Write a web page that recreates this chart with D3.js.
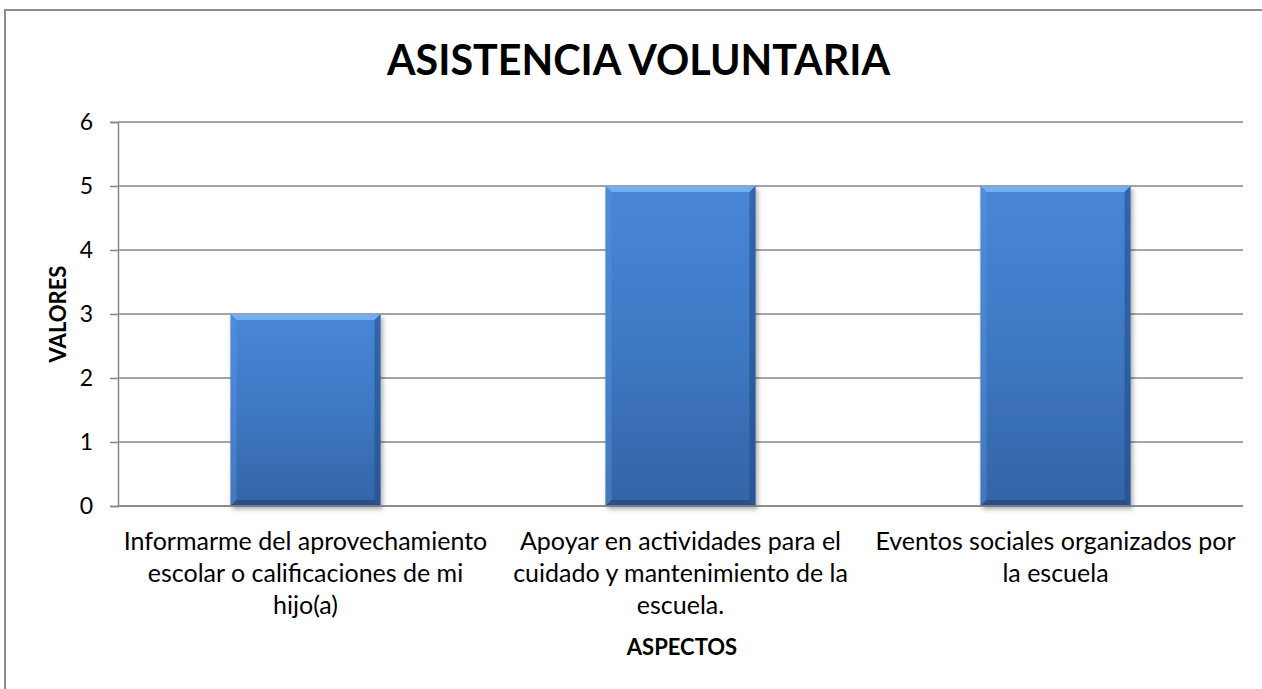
<!DOCTYPE html>
<html>
<head>
<meta charset="utf-8">
<script src="https://cdn.jsdelivr.net/npm/d3@7"></script>
<style>
  body { margin: 0; background: #fff; }
  svg { display: block; font-family: Lato, "Open Sans", sans-serif; }
</style>
</head>
<body>
<div class="container"></div>
<script>
// data
const categories = [
  ["Informarme del aprovechamiento", "escolar o calificaciones de mi", "hijo(a)"],
  ["Apoyar en actividades para el", "cuidado y mantenimiento de la", "escuela."],
  ["Eventos sociales organizados por", "la escuela"]
];
const values = [3, 5, 5];
const yTicks = [0, 1, 2, 3, 4, 5, 6];
const title = "ASISTENCIA VOLUNTARIA";
const xTitle = "ASPECTOS";
const yTitle = "VALORES";

const w = 1262;
const h = 689;
const plotLeft = 118, plotRight = 1243, plotTop = 122, plotBottom = 506;

const svg = d3.select(".container")
  .append("svg")
  .attr("width", w)
  .attr("height", h);

const defs = svg.append("defs");
const grad = defs.append("linearGradient")
  .attr("id", "barFill")
  .attr("x1", 0).attr("y1", 0).attr("x2", 0).attr("y2", 1);
grad.append("stop").attr("offset", "0%").attr("stop-color", "#4887d6");
grad.append("stop").attr("offset", "50%").attr("stop-color", "#3e78c4");
grad.append("stop").attr("offset", "100%").attr("stop-color", "#3464a6");

const shadow = defs.append("filter")
  .attr("id", "shadow")
  .attr("x", "-10%").attr("y", "-10%").attr("width", "130%").attr("height", "130%");
shadow.append("feGaussianBlur").attr("in", "SourceAlpha").attr("stdDeviation", 2.5);
shadow.append("feOffset").attr("dx", 2).attr("dy", 3).attr("result", "off");
shadow.append("feComponentTransfer").append("feFuncA").attr("type", "linear").attr("slope", 0.35);
const merge = shadow.append("feMerge");
merge.append("feMergeNode");
merge.append("feMergeNode").attr("in", "SourceGraphic");

// chart frame
svg.append("rect")
  .attr("x", 5).attr("y", 10)
  .attr("width", 1300).attr("height", 700)
  .attr("fill", "#fff")
  .attr("stroke", "#8c8c8c")
  .attr("stroke-width", 2);

const x = d3.scaleBand()
  .domain(d3.range(categories.length))
  .range([plotLeft, plotRight])
  .paddingInner(0.6)
  .paddingOuter(0.3);

const y = d3.scaleLinear()
  .domain([0, 6])
  .range([plotBottom, plotTop]);

// gridlines
svg.append("g")
  .selectAll("line")
  .data(yTicks)
  .join("line")
  .attr("x1", plotLeft).attr("x2", plotRight)
  .attr("y1", d => y(d)).attr("y2", d => y(d))
  .attr("stroke", "#868686")
  .attr("stroke-width", 1.5);

// y axis
const yAxis = d3.axisLeft(y)
  .tickValues(yTicks)
  .tickFormat(d3.format("d"))
  .tickSize(8)
  .tickPadding(17);
const gy = svg.append("g")
  .attr("transform", "translate(" + plotLeft + ",0)")
  .call(yAxis);
gy.select(".domain").attr("stroke", "#868686").attr("stroke-width", 1.5);
gy.selectAll(".tick line").attr("stroke", "#868686").attr("stroke-width", 1.5);
gy.selectAll(".tick text")
  .attr("font-size", 23)
  .attr("font-family", "Lato, sans-serif")
  .attr("fill", "#000");

// bars
const bev = 6;
const bars = svg.append("g")
  .selectAll("g")
  .data(values)
  .join("g")
  .attr("filter", "url(#shadow)");

bars.append("rect")
  .attr("x", (d, i) => x(i))
  .attr("y", d => y(d))
  .attr("width", x.bandwidth())
  .attr("height", d => y(0) - y(d))
  .attr("fill", "url(#barFill)");

// bevel edges
bars.append("polygon")
  .attr("points", (d, i) => {
    const x0 = x(i), x1 = x(i) + x.bandwidth(), y0 = y(d);
    return [[x0, y0], [x1, y0], [x1 - bev, y0 + bev], [x0 + bev, y0 + bev]].join(" ");
  })
  .attr("fill", "#7ab3f2")
  .attr("opacity", 0.9);
bars.append("polygon")
  .attr("points", (d, i) => {
    const x0 = x(i), y0 = y(d), y1 = y(0);
    return [[x0, y0], [x0 + bev, y0 + bev], [x0 + bev, y1 - bev], [x0, y1]].join(" ");
  })
  .attr("fill", "#5a96e0")
  .attr("opacity", 0.4);
bars.append("polygon")
  .attr("points", (d, i) => {
    const x1 = x(i) + x.bandwidth(), y0 = y(d), y1 = y(0);
    return [[x1, y0], [x1 - bev, y0 + bev], [x1 - bev, y1 - bev], [x1, y1]].join(" ");
  })
  .attr("fill", "#1f4a85")
  .attr("opacity", 0.55);
bars.append("polygon")
  .attr("points", (d, i) => {
    const x0 = x(i), x1 = x(i) + x.bandwidth(), y1 = y(0);
    return [[x0, y1], [x0 + bev, y1 - bev], [x1 - bev, y1 - bev], [x1, y1]].join(" ");
  })
  .attr("fill", "#203f6e")
  .attr("opacity", 0.55);

// x axis line
svg.append("line")
  .attr("x1", plotLeft).attr("x2", plotRight)
  .attr("y1", y(0)).attr("y2", y(0))
  .attr("stroke", "#868686")
  .attr("stroke-width", 1.5);

// category labels
const labels = svg.append("g")
  .selectAll("text")
  .data(categories)
  .join("text")
  .attr("text-anchor", "middle")
  .attr("font-size", 25)
  .attr("fill", "#000");
labels.selectAll("tspan")
  .data((d, i) => d.map(t => ({ t: t, i: i })))
  .join("tspan")
  .attr("x", d => x(d.i) + x.bandwidth() / 2)
  .attr("y", (d, j) => 550 + j * 32)
  .text(d => d.t);

// titles
const t = svg.append("text")
  .attr("x", 638.5)
  .attr("y", 75)
  .attr("text-anchor", "middle")
  .attr("font-size", 42)
  .attr("font-weight", "bold")
  .attr("fill", "#000")
  .text(title);
if (t.node().getComputedTextLength() > 503) {
  t.attr("textLength", 503).attr("lengthAdjust", "spacingAndGlyphs");
}

svg.append("text")
  .attr("x", 682)
  .attr("y", 655)
  .attr("text-anchor", "middle")
  .attr("font-size", 22)
  .attr("font-weight", "bold")
  .attr("fill", "#000")
  .text(xTitle);

svg.append("text")
  .attr("transform", "translate(66," + ((plotTop + plotBottom) / 2) + ") rotate(-90)")
  .attr("text-anchor", "middle")
  .attr("font-size", 22)
  .attr("font-weight", "bold")
  .attr("fill", "#000")
  .text(yTitle);
</script>
</body>
</html>
